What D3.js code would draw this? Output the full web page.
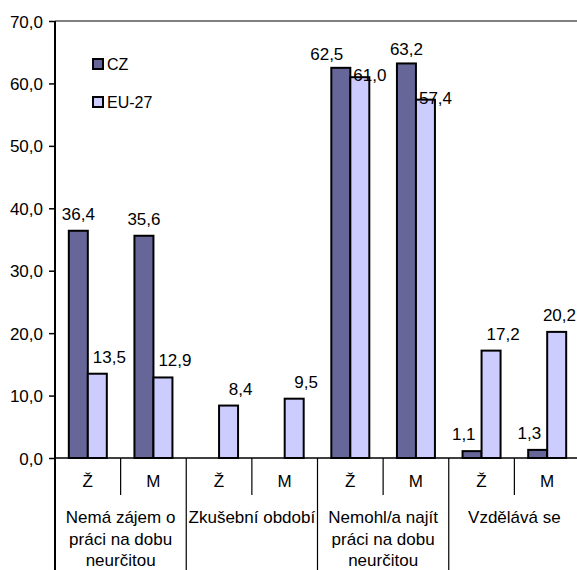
<!DOCTYPE html>
<html>
<head>
<meta charset="utf-8">
<script src="https://cdn.jsdelivr.net/npm/d3@7"></script>
<style>
  html, body { margin: 0; padding: 0; background: #fff; }
  svg { display: block; }
  text { font-family: Arial, "Liberation Sans", sans-serif; fill: #000; }
</style>
</head>
<body>
<svg id="chart" width="577" height="570"></svg>
<script>
// Reasons for temporary employment, women (Ž) and men (M), CZ vs EU-27 (%)
const groupLines = [
  ["Nemá zájem o", "práci na dobu", "neurčitou"],
  ["Zkušební období"],
  ["Nemohl/a najít", "práci na dobu", "neurčitou"],
  ["Vzdělává se"]
];
const sexes = ["Ž", "M"];
const seriesNames = ["CZ", "EU-27"];
const valuesCZ = [36.4, 35.6, null, null, 62.5, 63.2, 1.1, 1.3];
const valuesEU = [13.5, 12.9, 8.4, 9.5, 61.0, 57.4, 17.2, 20.2];
const yTicks = [0, 10, 20, 30, 40, 50, 60, 70];

const colors = { "CZ": "#666699", "EU-27": "#CCCCFF" };
const fontSize = 17;

const svg = d3.select("#chart");
const width = 577, height = 570;
const plotLeft = 55, plotRight = 580, plotTop = 21, plotBottom = 458;

const slots = d3.range(groupLines.length * sexes.length);
const x0 = d3.scaleBand().domain(slots).range([plotLeft, plotRight]).paddingInner(0).paddingOuter(0);
const x1 = d3.scaleBand().domain(seriesNames).range([0, x0.bandwidth()]).paddingInner(0).paddingOuter(0.727);
const y = d3.scaleLinear().domain([0, 70]).range([plotBottom, plotTop]);

const fmt = v => d3.format(".1f")(v).replace(".", ",");

// top border of the plot area
svg.append("line")
  .attr("x1", plotLeft).attr("x2", width).attr("y1", plotTop).attr("y2", plotTop)
  .attr("stroke", "#808080").attr("stroke-width", 2);

// y axis
const yAxis = d3.axisLeft(y).tickValues(yTicks).tickSize(6).tickPadding(6).tickFormat(fmt);
const gy = svg.append("g").attr("transform", `translate(${plotLeft},0)`).call(yAxis);
gy.select(".domain").remove();
gy.selectAll(".tick line").attr("stroke", "#000").attr("stroke-width", 1.5);
gy.selectAll(".tick text").style("font-size", fontSize + "px")
  .style("font-family", "Arial, 'Liberation Sans', sans-serif").attr("fill", "#000").attr("dy", "0.36em");

// bars
const rows = slots.map(i => ({ slot: i, values: [valuesCZ[i], valuesEU[i]] }));
const barG = svg.append("g");
rows.forEach(r => {
  seriesNames.forEach((s, k) => {
    const v = r.values[k];
    if (v == null) return;
    barG.append("rect")
      .attr("x", x0(r.slot) + x1(s))
      .attr("y", y(v))
      .attr("width", x1.bandwidth())
      .attr("height", y(0) - y(v))
      .attr("fill", colors[s])
      .attr("stroke", "#000")
      .attr("stroke-width", 2);
  });
});

// x axis baseline and vertical axis line
svg.append("line").attr("x1", plotLeft).attr("x2", width).attr("y1", plotBottom).attr("y2", plotBottom)
  .attr("stroke", "#000").attr("stroke-width", 1.5);
svg.append("line").attr("x1", plotLeft).attr("x2", plotLeft).attr("y1", plotTop).attr("y2", height)
  .attr("stroke", "#000").attr("stroke-width", 2);

// category dividers: short between Ž/M, long between groups
slots.forEach(i => {
  if (i === 0) return;
  const xx = x0(i);
  const isGroup = i % sexes.length === 0;
  svg.append("line").attr("x1", xx).attr("x2", xx)
    .attr("y1", plotBottom).attr("y2", isGroup ? height : 495)
    .attr("stroke", "#000").attr("stroke-width", 1.2);
});

// Ž / M labels
slots.forEach(i => {
  svg.append("text")
    .attr("x", x0(i) + x0.bandwidth() / 2).attr("y", 487)
    .attr("text-anchor", "middle").style("font-size", fontSize + "px")
    .text(sexes[i % sexes.length]);
});

// group labels
groupLines.forEach((lines, g) => {
  const cx = x0(g * sexes.length) + x0.bandwidth();
  lines.forEach((ln, j) => {
    svg.append("text")
      .attr("x", cx).attr("y", 523 + j * 21.5)
      .attr("text-anchor", "middle").style("font-size", fontSize + "px")
      .text(ln);
  });
});

// value labels
const labelG = svg.append("g");
function boxOf(t) { return t.node().getBBox(); }
rows.forEach(r => {
  const [vc, ve] = r.values;
  const xc = x0(r.slot) + x1("CZ");
  const xe = x0(r.slot) + x1("EU-27");
  const bw = x1.bandwidth();
  const nested = vc != null && ve != null && vc > ve && y(ve) - y(vc) < 60;
  let euBox = null;
  if (ve != null) {
    const t = labelG.append("text").style("font-size", fontSize + "px").text(fmt(ve));
    if (nested) {
      // CZ bar just above: put the label beside the bar top
      t.attr("text-anchor", "start").attr("x", xe + 3).attr("y", y(ve) + 4);
    } else {
      t.attr("text-anchor", "middle").attr("x", xe + bw / 2 + 12).attr("y", y(ve) - 11);
      const b = boxOf(t);
      if (b.x + b.width > width - 1) t.attr("x", +t.attr("x") - (b.x + b.width - (width - 1)));
    }
    euBox = boxOf(t);
  }
  if (vc != null) {
    const t = labelG.append("text")
      .attr("x", xc + bw / 2).attr("y", y(vc) - (nested ? 8 : 11))
      .attr("text-anchor", "middle").style("font-size", fontSize + "px")
      .text(fmt(vc));
    const b = boxOf(t);
    let limit = null;
    // keep clear of a taller neighbouring bar
    if (ve != null && y(ve) < b.y + b.height) limit = xe - 6;
    // and of a nested EU label sitting close below
    if (nested && euBox && euBox.y - (b.y + b.height) < 20) limit = euBox.x - 10;
    if (limit != null && b.x + b.width > limit) {
      t.attr("x", xc + bw / 2 - (b.x + b.width - limit));
    }
  }
});

// legend
const legend = svg.append("g");
seriesNames.forEach((s, k) => {
  const ly = 59 + k * 38;
  legend.append("rect").attr("x", 93).attr("y", ly).attr("width", 10).attr("height", 10)
    .attr("fill", colors[s]).attr("stroke", "#000").attr("stroke-width", 2);
  legend.append("text").attr("x", 107).attr("y", ly + 10.5)
    .style("font-size", "16px").text(s);
});
</script>
</body>
</html>
